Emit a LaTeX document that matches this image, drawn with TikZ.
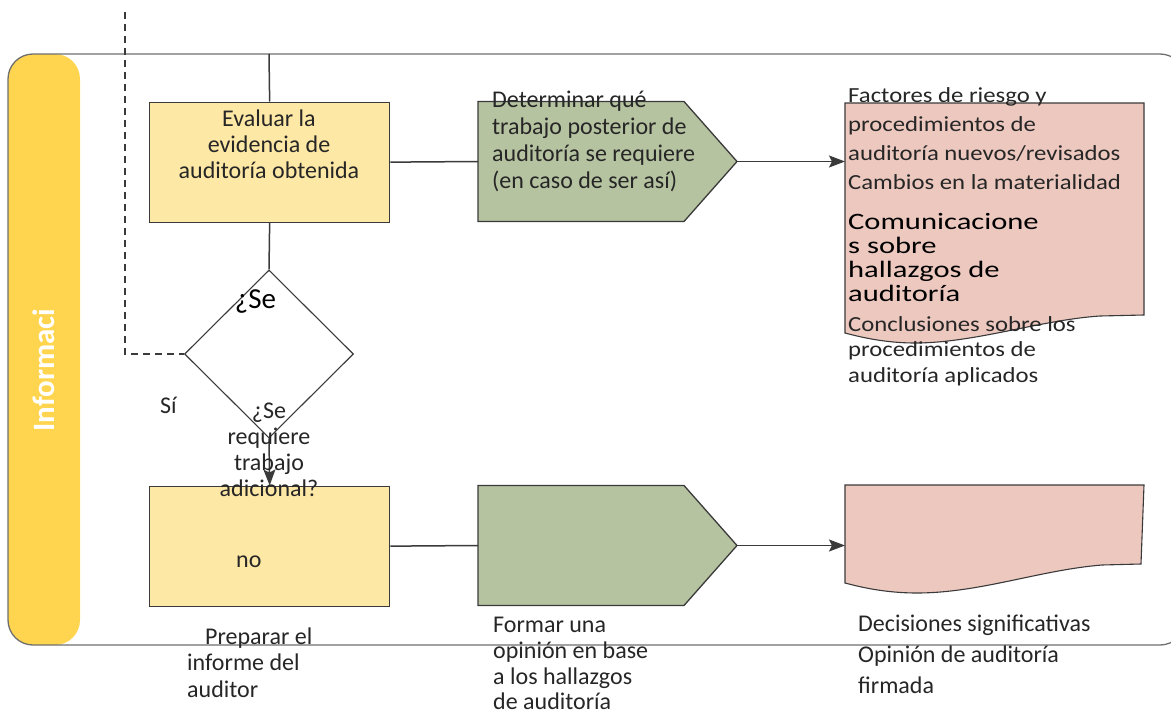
\documentclass[tikz,border=0pt]{standalone}
\usepackage{fontspec}
\setmainfont{Carlito}
\newfontfamily\docfont[FakeStretch=1.15]{Carlito}
\newfontfamily\bigfont[FakeStretch=1.3]{Carlito}
\usetikzlibrary{shapes.geometric,arrows.meta}
\definecolor{bandc}{HTML}{FFD54F}
\definecolor{boxc}{HTML}{FEE8A6}
\definecolor{greenc}{HTML}{B6C3A0}
\definecolor{pinkc}{HTML}{ECC8BF}
\definecolor{txtc}{HTML}{262626}
\definecolor{framec}{HTML}{6E6E6E}
\definecolor{linec}{HTML}{3A3A3A}
\begin{document}
\begin{tikzpicture}[x=1pt,y=-1pt,
  boxstyle/.style={draw=linec, fill=boxc, line width=1.3pt, minimum width=240pt, minimum height=120pt, inner sep=0pt, anchor=north west},
  diastyle/.style={draw=linec, diamond, line width=1.1pt, minimum width=169pt, minimum height=168pt, inner sep=0pt},
  shapeline/.style={draw=linec, line width=1.3pt},
  conn/.style={draw=linec, line width=1.5pt},
  arr/.style={conn, -{Stealth[length=16pt,width=12pt,inset=3pt]}},
  t/.style={inner sep=0pt, anchor=base west, text=txtc, font=\fontsize{24}{26}\selectfont},
  tc/.style={t, anchor=base},
  td/.style={t, font=\docfont\fontsize{21.5}{26}\selectfont},
  tb/.style={t, text=black, font=\bigfont\fontsize{23.5}{26}\selectfont}
]
\useasboundingbox (0,0) rectangle (1171,715);
% swimlane
\fill[bandc, rounded corners=25pt] (8,54) rectangle (80,645);
\draw[framec, line width=1.3pt, rounded corners=25pt] (8,54) rectangle (1185,645);
\node[rotate=90, text=white, inner sep=0pt, font=\bfseries\fontsize{31}{31}\selectfont] (lane) at (44,370) {Informaci};

% coordinates
\coordinate (dtop) at (125,12);
\coordinate (ftop) at (269,54);

% boxes
\node[boxstyle] (b1) at (149,101.5) {};
\node[boxstyle] (b2) at (149,485.5) {};
\node[diastyle] (d) at (269,354) {};

% pentagons
\draw[shapeline, fill=greenc] (478,101.5) -- (684,101.5) -- (737,161.5) -- (684,221.5) -- (478,221.5) -- cycle;
\coordinate (g1w) at (478,161.5);
\coordinate (g1e) at (737,161.5);
\draw[shapeline, fill=greenc] (478,485.5) -- (684,485.5) -- (737,545.5) -- (684,605.5) -- (478,605.5) -- cycle;
\coordinate (g2w) at (478,545.5);
\coordinate (g2e) at (737,545.5);

% documents
\draw[shapeline, line width=1.1pt, fill=pinkc] (845,103) -- (1144,103) -- (1144,315) -- (1100,316)
  .. controls (1040,320) and (975,343) .. (915,343)
  .. controls (885,343) and (860,337) .. (845,333) -- cycle;
\coordinate (d1w) at (845,161.5);
\draw[shapeline, line width=1.1pt, fill=pinkc] (845,485) -- (1144,485) -- (1141,564) -- (1102,565)
  .. controls (1040,570) and (980,593) .. (917,593)
  .. controls (885,593) and (860,587) .. (845,583) -- cycle;
\coordinate (d2w) at (845,545.5);

% connectors
\draw[conn] (b1.north) -- (ftop);
\draw[conn] (b1.south) -- (d.north);
\draw[arr] (d.south) -- (b2.north);
\draw[conn] (b1.east) -- (g1w);
\draw[arr] (g1e) -- (d1w);
\draw[conn] (b2.east) -- (g2w);
\draw[arr] (g2e) -- (d2w);
\draw[draw=linec, line width=1.3pt, dash pattern=on 7pt off 5pt] (dtop) |- (d.west);

% box 1 text
\node[tc] (e1) at (269,126) {Evaluar la};
\node[tc] (e2) at (269,152) {evidencia de};
\node[tc] (e3) at (269,178) {auditoría obtenida};

% diamond texts
\node[tc, text=black, font=\fontsize{29}{30}\selectfont] (q0) at (255.5,308) {¿Se};
\node[t] (si) at (160,413) {Sí};
\node[tc] (q1) at (269,418) {¿Se};
\node[tc] (q2) at (269,444) {requiere};
\node[tc] (q3) at (269,470) {trabajo};
\node[tc] (q4) at (269,496) {adicional?};
\node[t] (no) at (236,567) {no};

% box 2 caption
\node[t] (p1) at (205,644) {Preparar el};
\node[t] (p2) at (187,670.5) {informe del};
\node[t] (p3) at (187,697) {auditor};

% pentagon 1 text
\node[t] (g1a) at (492,107) {Determinar qué};
\node[t] (g1b) at (492,134) {trabajo posterior de};
\node[t] (g1c) at (492,161) {auditoría se requiere};
\node[t] (g1d) at (492,188) {(en caso de ser así)};

% pentagon 2 text
\node[t] (g2a) at (493,632) {Formar una};
\node[t] (g2b) at (493,658) {opinión en base};
\node[t] (g2c) at (493,684) {a los hallazgos};
\node[t] (g2d) at (493,709) {de auditoría};

% document 1 text
\node[td] (f1) at (848,102) {Factores de riesgo y};
\node[td] (f2) at (848,131) {procedimientos de};
\node[td] (f3) at (848,160) {auditoría nuevos/revisados};
\node[td] (f4) at (848,189) {Cambios en la materialidad};
\node[tb] (c1) at (848,229) {Comunicacione};
\node[tb] (c2) at (848,253) {s sobre};
\node[tb] (c3) at (848,277) {hallazgos de};
\node[tb] (c4) at (848,301) {auditoría};
\node[td] (k1) at (848,331) {Conclusiones sobre los};
\node[td] (k2) at (848,356.5) {procedimientos de};
\node[td] (k3) at (848,382) {auditoría aplicados};

% document 2 text
\node[t] (o1) at (858,631) {Decisiones significativas};
\node[t] (o2) at (858,662) {Opinión de auditoría};
\node[t] (o3) at (858,693) {firmada};
\end{tikzpicture}
\end{document}
